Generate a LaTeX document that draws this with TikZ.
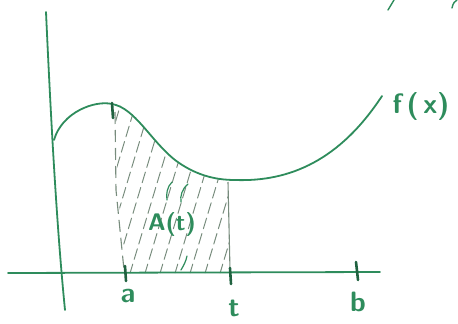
\documentclass[tikz,border=0pt]{standalone}
\usetikzlibrary{calc}
\definecolor{pen}{RGB}{46,140,92}
\definecolor{hatch}{RGB}{120,140,125}
\tikzset{
  penline/.style={draw=pen, line width=1.8pt, line cap=round, line join=round},
  thinpen/.style={draw=pen, line width=1.2pt, line cap=round},
  lbl/.style={text=pen, font=\fontsize{28}{30}\selectfont\sffamily\bfseries, inner sep=0pt},
  tick/.style={draw=pen!70!black, line width=2.6pt, line cap=round},
  hatchline/.style={draw=hatch, line width=1pt, dash pattern=on 11pt off 5pt, line cap=round}
}
\begin{document}
\begin{tikzpicture}[x=1pt,y=-1pt]
\useasboundingbox (0,0) rectangle (458,324);
% hatched region
\begin{scope}
  \clip (115,104) .. controls (135,108) and (150,140) .. (175,160) .. controls (195,175) and (215,180) .. (228,180) -- (230,273) -- (125,273) -- (118,190) -- cycle;
  \foreach \k in {0,15,...,300} {
    \draw[hatchline] (50+\k,290) -- (110+\k,90);
  }
\end{scope}
% dashed bounds
\draw[draw=hatch, line width=1.1pt, dash pattern=on 12pt off 6pt] (115,112) -- (116,190) -- (124,270);
\draw[draw=hatch, line width=1.1pt] (228,182) -- (230,270);
% axes
\coordinate (ytop) at (46,12);
\coordinate (ybot) at (65,310);
\coordinate (xl) at (8,273);
\coordinate (xr) at (380,272);
\draw[penline] (ytop) .. controls (50,100) and (56,220) .. (ybot);
\draw[penline] (xl) -- (xr);
% curve
\draw[penline] (54,140) .. controls (62,112) and (95,100) .. (112,104) .. controls (135,108) and (150,140) .. (175,160) .. controls (195,175) and (215,180) .. (235,180) .. controls (290,182) and (340,160) .. (382,96);
% ticks
\draw[tick] (112,103) -- (113,118);
\draw[tick] (125,266) -- (126,281);
\draw[tick] (230,268) -- (231,284);
\draw[tick] (356,262) -- (358,280);
% labels
\node[lbl] (fx) at (421,106) {f\,(\,x)};
\node[lbl] (la) at (128,296) {a};
\node[lbl] (lt) at (234,308) {t};
\node[lbl] (lb) at (358,302) {b};
\node[lbl, font=\fontsize{24}{26}\selectfont\sffamily\bfseries] (At) at (172,224) {A(t)};
% green strokes round A(t)
\draw[thinpen] (172,182) .. controls (167,187) and (166,194) .. (167,200);
\draw[thinpen] (188,184) .. controls (182,189) and (180,196) .. (181,202);
\draw[thinpen] (187,256) .. controls (186,261) and (184,265) .. (181,270);
% stray strokes at top right
\draw[penline, line width=1.4pt] (388,10) -- (394,0);
\draw[penline, line width=1.4pt] (452,8) .. controls (453,3) and (455,1) .. (457,0);
\end{tikzpicture}
\end{document}
